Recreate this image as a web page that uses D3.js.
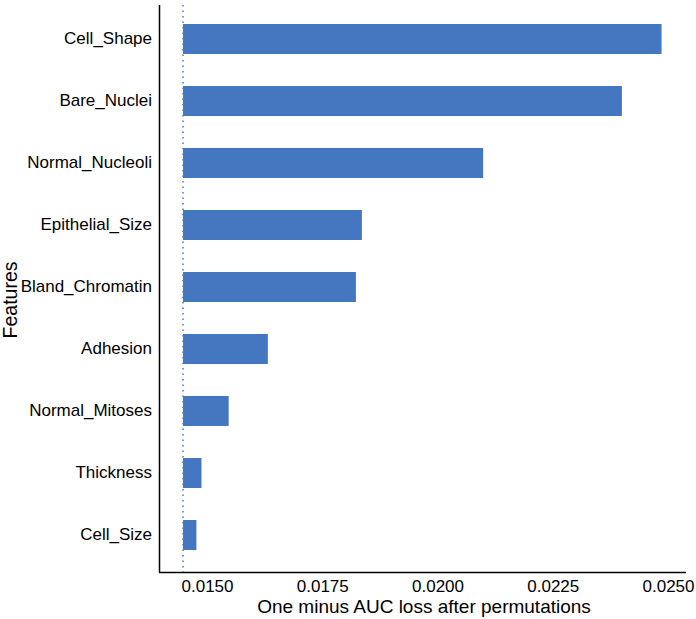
<!DOCTYPE html>
<html>
<head>
<meta charset="utf-8">
<script src="https://cdn.jsdelivr.net/npm/d3@7"></script>
<style>
  body { margin: 0; background: #fff; }
  text { font-family: "Liberation Sans", Arial, sans-serif; fill: #000; }
</style>
</head>
<body>
<div id="chart"></div>
<script>
// Données
const features = ["Cell_Shape", "Bare_Nuclei", "Normal_Nucleoli", "Epithelial_Size",
  "Bland_Chromatin", "Adhesion", "Normal_Mitoses", "Thickness", "Cell_Size"];
const values = [0.02486, 0.02400, 0.02099, 0.01836, 0.01823, 0.01632, 0.01547, 0.01488, 0.01477];
const baseline = 0.01448;
const xTicks = [0.0150, 0.0175, 0.0200, 0.0225, 0.0250];

const width = 696, height = 619;

const svg = d3.select("#chart").append("svg")
  .attr("width", width)
  .attr("height", height);

// Échelles
const x = d3.scaleLinear()
  .domain([0.0150, 0.0250])
  .range([207, 668]);

const y = d3.scaleBand()
  .domain(features)
  .range([8, 566])
  .paddingInner(0.516)
  .paddingOuter(0.258);

// Barres
svg.append("g")
  .selectAll("rect")
  .data(features)
  .enter().append("rect")
  .attr("x", x(baseline))
  .attr("y", d => y(d))
  .attr("width", (d, i) => x(values[i]) - x(baseline))
  .attr("height", y.bandwidth())
  .attr("fill", "#4477c0");

// Ligne pointillée de référence
svg.append("line")
  .attr("x1", x(baseline)).attr("x2", x(baseline))
  .attr("y1", 5).attr("y2", 572)
  .attr("stroke", "#4a7cc4")
  .attr("stroke-width", 1.5)
  .attr("stroke-dasharray", "1.5,4");

// Axes (sans graduations)
svg.append("line")
  .attr("x1", 159.5).attr("x2", 159.5)
  .attr("y1", 5).attr("y2", 572.5)
  .attr("stroke", "#000").attr("stroke-width", 1.5);
svg.append("line")
  .attr("x1", 159).attr("x2", 686)
  .attr("y1", 572.5).attr("y2", 572.5)
  .attr("stroke", "#000").attr("stroke-width", 1.5);

const xAxis = svg.append("g")
  .attr("transform", "translate(0,572)")
  .call(d3.axisBottom(x).tickValues(xTicks).tickFormat(d3.format(".4f")).tickSize(0).tickPadding(8));
xAxis.select(".domain").remove();
xAxis.selectAll("text").style("font-size", "17px").style("font-family", "Liberation Sans, Arial, sans-serif");

const yAxis = svg.append("g")
  .attr("transform", "translate(159,0)")
  .call(d3.axisLeft(y).tickSize(0).tickPadding(7));
yAxis.select(".domain").remove();
yAxis.selectAll("text").style("font-size", "17px").style("font-family", "Liberation Sans, Arial, sans-serif");

// Titres des axes
svg.append("text")
  .attr("x", 424).attr("y", 613)
  .attr("text-anchor", "middle")
  .style("font-size", "19px")
  .text("One minus AUC loss after permutations");

svg.append("text")
  .attr("transform", "translate(17,300) rotate(-90)")
  .attr("text-anchor", "middle")
  .style("font-size", "19.5px")
  .text("Features");
</script>
</body>
</html>
